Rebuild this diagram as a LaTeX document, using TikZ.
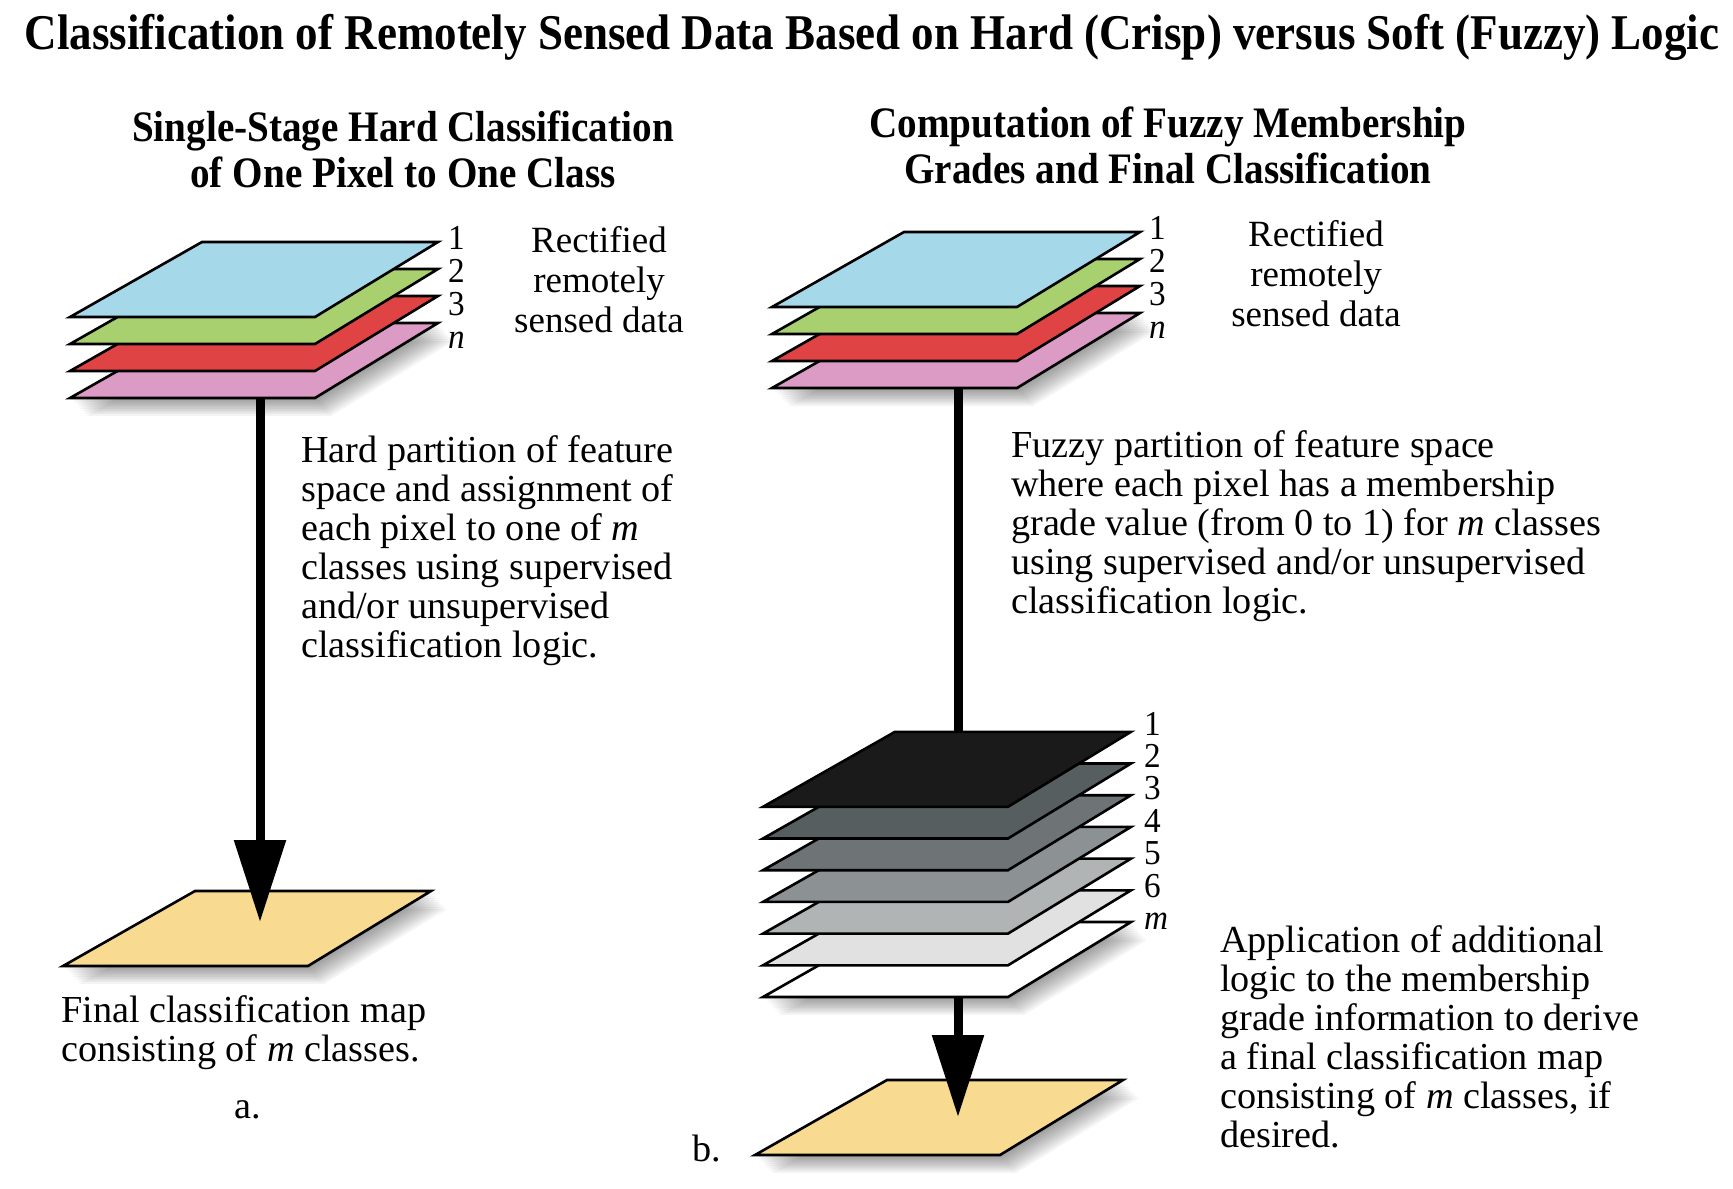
\documentclass[tikz,border=0pt]{standalone}
\usepackage{fontspec}
\setmainfont{Liberation Serif}
\newfontfamily\headfont[FakeStretch=0.9]{Liberation Serif}
\newfontfamily\numfont[FakeStretch=0.95]{Liberation Serif}
\usetikzlibrary{arrows.meta}

\definecolor{skyband}{HTML}{A5D8E8}
\definecolor{greenband}{HTML}{A9D06F}
\definecolor{redband}{HTML}{E04343}
\definecolor{pinkband}{HTML}{DC9BC5}
\definecolor{mapfill}{HTML}{F8DB90}
\definecolor{fuzzA}{HTML}{1A1A1A}
\definecolor{fuzzB}{HTML}{575E5F}
\definecolor{fuzzC}{HTML}{6E7475}
\definecolor{fuzzD}{HTML}{8C9293}
\definecolor{fuzzE}{HTML}{B0B4B5}
\definecolor{fuzzF}{HTML}{E1E1E1}
\definecolor{fuzzG}{HTML}{FFFFFF}

\pgfdeclarelayer{back}
\pgfsetlayers{back,main}

\tikzset{
  x=1pt, y=-1pt,
  slab/.style={draw=black, line width=2.6pt, line join=miter},
  flow/.style={line width=9pt},
  bighead/.style={-{Triangle[length=82pt, width=50pt]}},
  heading/.style={font=\headfont\bfseries\fontsize{50}{56}\selectfont, anchor=base, inner sep=0pt},
  subheading/.style={font=\headfont\bfseries\fontsize{43.5}{46}\selectfont, align=center, anchor=base, inner sep=0pt},
  source/.style={font=\fontsize{37}{40}\selectfont, align=center, anchor=base, inner sep=0pt},
  body/.style={font=\fontsize{38.2}{39}\selectfont, align=left, anchor=base west, inner sep=0pt},
  num/.style={font=\numfont\fontsize{35}{35}\selectfont, anchor=base west, inner sep=0pt},
}

% one slab: #1 bottom-left corner, #2 fill, #3 name
\newcommand{\slab}[3]{%
  \begin{scope}[shift={#1}]
    \draw[slab, fill=#2] (0,0) -- (245,0) -- (368,-75) -- (132,-75) -- cycle;
    \coordinate (#3) at (190,-37);
  \end{scope}}

% soft shadow under a slab
\newcommand{\slabshadow}[1]{%
  \begin{scope}[shift={#1}]
    \foreach \d in {1,...,10}
      \fill[black, opacity=.045, shift={(1.6*\d,1.8*\d)}] (0,0) -- (245,0) -- (368,-75) -- (132,-75) -- cycle;
  \end{scope}}

\begin{document}
\begin{tikzpicture}
\useasboundingbox (0,0) rectangle (1733,1189);

% title (multi-line nodes are placed by the baseline of their last line)
\node[heading] (title) at (872,49) {Classification of Remotely Sensed Data Based on Hard (Crisp) versus Soft (Fuzzy) Logic};

% a. hard classification
\node[subheading] (hardHead) at (403,187) {Single-Stage Hard Classification\\of One Pixel to One Class};

\slabshadow{(70,398)}
\slab{(70,398)}{pinkband}{pinkA}
\slab{(70,371)}{redband}{redA}
\slab{(70,344)}{greenband}{greenA}
\slab{(70,317)}{skyband}{skyA}
\foreach \t [count=\i from 0] in {1,2,3,\textit{n}}
  \node[num] (bandA\i) at (448,249+33*\i) {\t};
\node[source] (srcA) at (599,332) {Rectified\\remotely\\sensed data};

\node[body] (hardText) at (301,657) {Hard partition of feature\\space and assignment of\\each pixel to one of \textit{m}\\classes using supervised\\and/or unsupervised\\classification logic.};

\coordinate (mapA) at (258,922);
\node[body] (mapAText) at (61,1061) {Final classification map\\consisting of \textit{m} classes.};
\node[body, anchor=base] (tagA) at (248,1118) {a.};

% b. fuzzy classification
\node[subheading] (fuzzyHead) at (1168,183) {Computation of Fuzzy Membership\\Grades and Final Classification};

\slabshadow{(772,388)}
\slab{(772,388)}{pinkband}{pinkB}
\slab{(772,361)}{redband}{redB}
\slab{(772,334)}{greenband}{greenB}
\slab{(772,307)}{skyband}{skyB}
\foreach \t [count=\i from 0] in {1,2,3,\textit{n}}
  \node[num] (bandB\i) at (1149,239+33*\i) {\t};
\node[source] (srcB) at (1316,326) {Rectified\\remotely\\sensed data};

\node[body] (fuzzyText) at (1011,613) {Fuzzy partition of feature space\\where each pixel has a membership\\grade value (from 0 to 1) for \textit{m} classes\\using supervised and/or unsupervised\\classification logic.};

% membership grade layers
\slabshadow{(763,997)}
\foreach \c [count=\i from 0] in {fuzzG,fuzzF,fuzzE,fuzzD,fuzzC,fuzzB,fuzzA}
  \slab{(763,997-31.7*\i)}{\c}{grade\i};
\foreach \t [count=\i from 0] in {1,2,3,4,5,6,\textit{m}}
  \node[num] (gradeNum\i) at (1144,735+32.4*\i) {\t};

\coordinate (mapB) at (958,1117);
\node[body] (applyText) at (1220,1147) {Application of additional\\logic to the membership\\grade information to derive\\a final classification map\\consisting of \textit{m} classes, if\\desired.};
\node[body, anchor=base] (tagB) at (707,1161) {b.};

% maps and flows behind the stacks
\begin{pgfonlayer}{back}
  \fill[white] (0,0) rectangle (1733,1189);
  \slabshadow{(63,966)}
  \slab{(63,966)}{mapfill}{finalA}
  \slabshadow{(755,1155)}
  \slab{(755,1155)}{mapfill}{finalB}
  \draw[flow, bighead] (pinkA) -- (pinkA |- mapA);
  \draw[flow] (pinkB -| mapB) -- (grade6 -| mapB);
  \draw[flow, bighead] (grade0 -| mapB) -- (mapB);
\end{pgfonlayer}
\end{tikzpicture}
\end{document}
